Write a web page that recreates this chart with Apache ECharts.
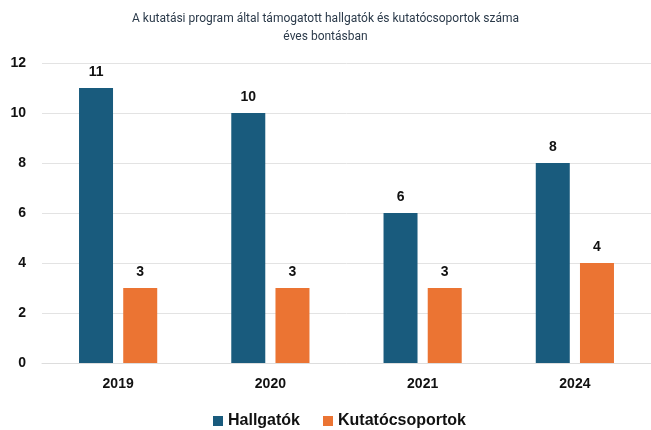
<!DOCTYPE html>
<html><head><meta charset="utf-8">
<script src="https://cdn.jsdelivr.net/npm/echarts@6/dist/echarts.min.js"></script>
<style>html,body{margin:0;padding:0;background:#fff}#c{width:651px;height:430px}</style>
</head><body><div id="c"></div>
<script>
const categories = ['2019', '2020', '2021', '2024'];
const hallgatok = [11, 10, 6, 8];
const kutatocsoportok = [3, 3, 3, 4];
const seriesNames = ['Hallgatók', 'Kutatócsoportok'];
const titleText = 'A kutatási program által támogatott hallgatók és kutatócsoportok száma\néves bontásban';

const chart = echarts.init(document.getElementById('c'), null, {renderer: 'canvas'});
const labelStyle = {show: true, position: 'top', distance: 9, color: '#111', fontWeight: 'bold', fontSize: 14, fontFamily: 'Liberation Sans, Arial'};
chart.setOption({
  animation: false,
  backgroundColor: '#fff',
  title: {
    text: titleText, left: 'center', top: 5,
    textStyle: {fontSize: 12, fontWeight: 'normal', color: '#2b3a4a', lineHeight: 18, fontFamily: 'Roboto'}
  },
  legend: {
    top: 408, left: 208, itemWidth: 10, itemHeight: 10, itemGap: 23, icon: 'rect',
    textStyle: {fontSize: 16, fontWeight: 'bold', color: '#111', fontFamily: 'Liberation Sans, Arial'},
    data: seriesNames
  },
  grid: {left: 42, top: 63, width: 612, height: 300, containLabel: false},
  xAxis: {
    type: 'category', data: categories,
    axisLine: {show: true, lineStyle: {color: '#ddd'}}, axisTick: {show: false},
    axisLabel: {color: '#111', fontWeight: 'bold', fontSize: 14, margin: 14, fontFamily: 'Liberation Sans, Arial'}
  },
  yAxis: {
    type: 'value', min: 0, max: 12, interval: 2,
    axisLine: {show: false}, axisTick: {show: false},
    splitLine: {lineStyle: {color: '#e3e3e3'}},
    axisLabel: {color: '#111', fontWeight: 'bold', fontSize: 14, margin: 16, fontFamily: 'Liberation Sans, Arial'}
  },
  series: [
    {name: seriesNames[0], type: 'bar', data: hallgatok, barWidth: 34, barGap: '30%', itemStyle: {color: '#195b7d'}, label: labelStyle},
    {name: seriesNames[1], type: 'bar', data: kutatocsoportok, barWidth: 34, barGap: '30%', itemStyle: {color: '#eb7433'}, label: labelStyle}
  ]
});
</script></body></html>
